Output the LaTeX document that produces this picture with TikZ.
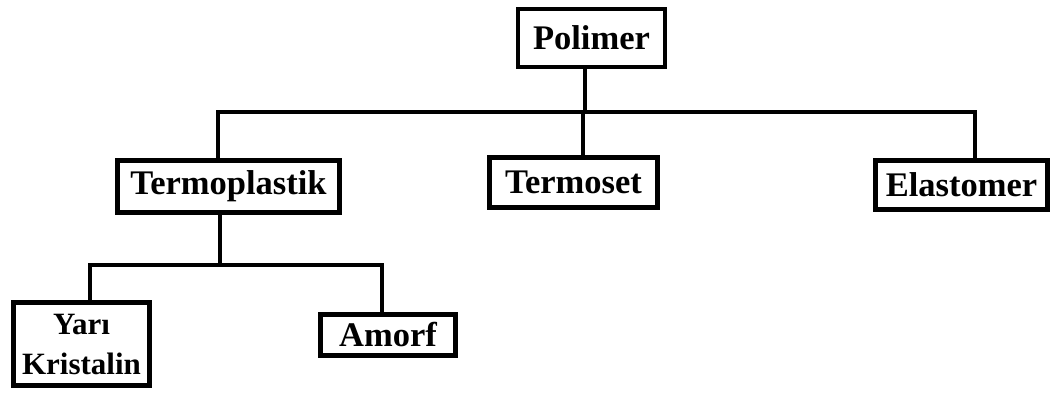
\documentclass[tikz,border=0pt]{standalone}
\usepackage{fontspec}
\setmainfont{Liberation Serif}
\begin{document}
\begin{tikzpicture}[x=1pt,y=-1pt,
  box/.style={draw=black,line width=4.5pt,rectangle,inner sep=0pt,align=center,
    font=\fontsize{34.5}{41}\selectfont\bfseries},
  conn/.style={draw=black,line width=4.5pt}]
\useasboundingbox (0,0) rectangle (1061,392);
\node[box,minimum width=147pt,minimum height=58pt] (pol) at (591.5,38) {Polimer};
\node[box,minimum width=222pt,minimum height=52pt] (tp) at (228.5,186.5) {Termoplastik};
\node[box,minimum width=168pt,minimum height=50pt] (ts) at (573.5,182.5) {Termoset};
\node[box,minimum width=172pt,minimum height=49pt] (el) at (961.5,185) {Elastomer};
\node[box,minimum width=136pt,minimum height=83pt,font=\fontsize{31}{40}\selectfont\bfseries] (yk) at (81.5,344) {Yarı\\Kristalin};
\node[box,minimum width=135pt,minimum height=41pt] (am) at (388,335) {Amorf};
\coordinate (bus1) at (585,112);
\coordinate (bus2) at (220,265);
\draw[conn] ([xshift=-6.5pt]pol.south) -- (bus1);
\draw[conn] ([xshift=-10.5pt]tp.north) |- (bus1);
\draw[conn] ([xshift=13.5pt]el.north) |- (bus1);
\draw[conn] ([xshift=9.5pt]ts.north) |- (bus1);
\draw[conn] ([xshift=-8.5pt]tp.south) -- (bus2);
\draw[conn] ([xshift=8.5pt]yk.north) |- (bus2);
\draw[conn] ([xshift=-6pt]am.north) |- (bus2);
\end{tikzpicture}
\end{document}
